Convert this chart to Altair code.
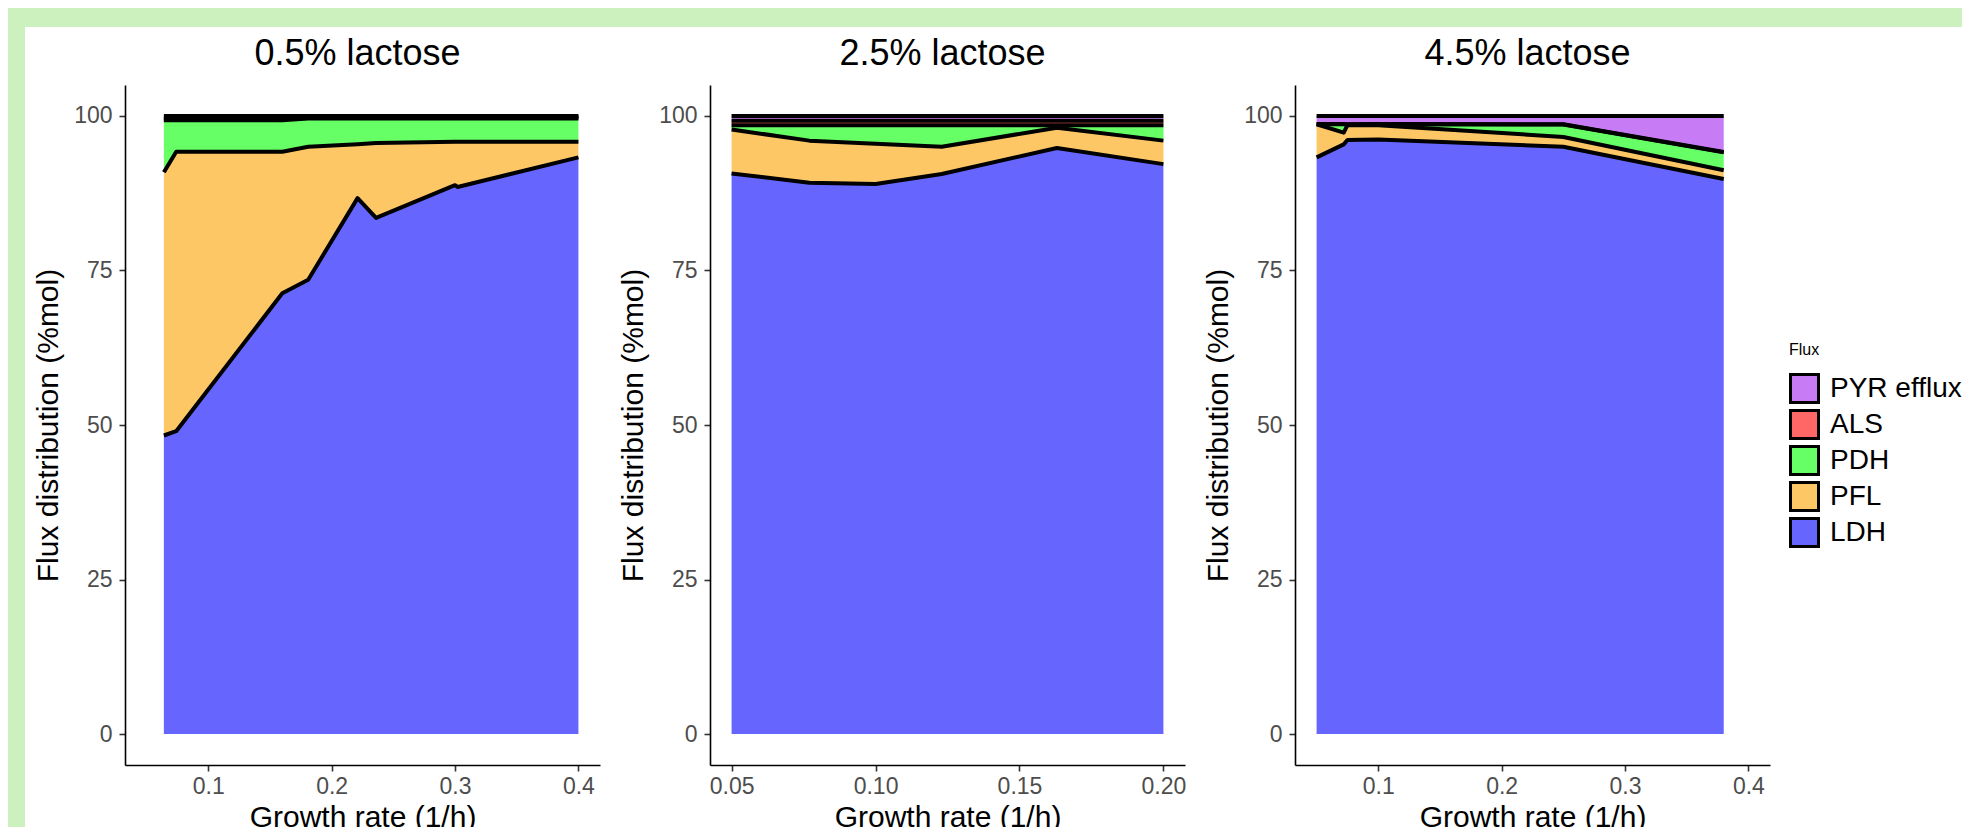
import altair as alt
import pandas as pd

FONT = "Liberation Sans"

# Flux categories (legend order, top of stack first) and their colours
FLUXES = ["PYR efflux", "ALS", "PDH", "PFL", "LDH"]
COLORS = ["#C77CF6", "#FF6666", "#66FF66", "#FDC766", "#6666FF"]
STACK_RANK = [4, 3, 2, 1, 0]  # 0 = bottom of the stack

# ---- 0.5% lactose ----
x_05 = [0.064, 0.074, 0.160, 0.181, 0.221, 0.236, 0.300, 0.302, 0.400]
ldh_05 = [48.3, 49.0, 71.3, 73.5, 86.7, 83.5, 88.8, 88.5, 93.3]
pfl_05 = [42.6, 45.2, 22.9, 21.5, 8.7, 12.1, 7.0, 7.3, 2.5]
pdh_05 = [8.4, 5.1, 5.1, 4.6, 4.2, 4.0, 3.8, 3.8, 3.8]
als_05 = [0.2, 0.2, 0.2, 0.2, 0.2, 0.2, 0.2, 0.2, 0.2]
pyr_05 = [0.5, 0.5, 0.5, 0.2, 0.2, 0.2, 0.2, 0.2, 0.2]

# ---- 2.5% lactose ----
x_25 = [0.050, 0.077, 0.100, 0.123, 0.163, 0.200]
ldh_25 = [90.7, 89.2, 89.0, 90.6, 94.8, 92.2]
pfl_25 = [7.1, 6.8, 6.5, 4.4, 3.3, 3.8]
pdh_25 = [0.7, 2.5, 3.0, 3.5, 0.4, 2.5]
als_25 = [0.7, 0.7, 0.7, 0.7, 0.7, 0.7]
pyr_25 = [0.8, 0.8, 0.8, 0.8, 0.8, 0.8]

# ---- 4.5% lactose ----
x_45 = [0.050, 0.072, 0.075, 0.100, 0.250, 0.380]
ldh_45 = [93.3, 95.4, 96.1, 96.2, 95.0, 89.8]
pfl_45 = [5.35, 1.9, 2.4, 2.3, 1.6, 1.4]
pdh_45 = [0.0, 1.35, 0.1, 0.15, 2.0, 2.9]
als_45 = [0.05, 0.05, 0.05, 0.05, 0.05, 0.05]
pyr_45 = [1.3, 1.3, 1.35, 1.3, 1.35, 5.85]

TITLES = ["0.5% lactose", "2.5% lactose", "4.5% lactose"]
TICKS_A = [0.1, 0.2, 0.3, 0.4]
TICKS_B = [0.05, 0.10, 0.15, 0.20]
Y_TICKS = [0, 25, 50, 75, 100]


def long_frame(xs, pyr, als, pdh, pfl, ldh):
    series = dict(zip(FLUXES, [pyr, als, pdh, pfl, ldh]))
    rank = dict(zip(FLUXES, STACK_RANK))
    rows = []
    for name, vals in series.items():
        for x, v in zip(xs, vals):
            rows.append({"x": x, "flux": name, "value": v, "rank": rank[name]})
    return pd.DataFrame(rows)


W, H = 475, 680
LINE = "black"
one_row = pd.DataFrame({"k": [0]})


def panel(df, title, domain, ticks, fmt, legend):
    base = alt.Chart(df).transform_stack(
        stack="value",
        groupby=["x"],
        as_=["y0", "y1"],
        sort=[alt.SortField("rank", order="ascending")],
    )
    xenc = alt.X(
        "x:Q",
        scale=alt.Scale(domain=domain, nice=False, zero=False),
        axis=alt.Axis(values=ticks, format=fmt, title="Growth rate (1/h)"),
    )
    yenc = alt.Y(
        "y1:Q",
        scale=alt.Scale(domain=[-5, 105], nice=False, zero=False),
        axis=alt.Axis(values=Y_TICKS, title="Flux distribution (%mol)"),
    )
    area = base.mark_area(opacity=1, interpolate="linear").encode(
        x=xenc,
        y=yenc,
        y2="y0:Q",
        color=alt.Color(
            "flux:N",
            scale=alt.Scale(domain=FLUXES, range=COLORS),
            legend=legend,
        ),
        order=alt.Order("rank:Q"),
    )
    lines = base.mark_line(color=LINE, strokeWidth=4, strokeJoin="round").encode(
        x="x:Q",
        y="y1:Q",
        detail="flux:N",
    )
    head = alt.Chart(one_row).mark_text(
        text=title,
        font=FONT,
        fontSize=36,
        color="black",
        align="center",
        baseline="alphabetic",
    ).encode(x=alt.value(W / 2 - 5), y=alt.value(-20))
    return alt.layer(area, lines, head).properties(width=W, height=H)


df05 = long_frame(x_05, pyr_05, als_05, pdh_05, pfl_05, ldh_05)
df25 = long_frame(x_25, pyr_25, als_25, pdh_25, pfl_25, ldh_25)
df45 = long_frame(x_45, pyr_45, als_45, pdh_45, pfl_45, ldh_45)

legend = alt.Legend(
    title="Flux",
    orient="none",
    legendX=494,
    legendY=257,
    titleFontSize=16,
    titleFontWeight="normal",
    titleColor="black",
    titleFont=FONT,
    titlePadding=15,
    labelFontSize=28,
    labelColor="black",
    labelFont=FONT,
    labelOffset=10,
    symbolType="square",
    symbolSize=784,
    symbolStrokeColor="black",
    symbolStrokeWidth=3,
    symbolOpacity=1,
    rowPadding=-8,
    labelLimit=400,
)

p1 = panel(df05, TITLES[0], [0.0325, 0.4175], TICKS_A, ".1f", None)
p2 = panel(df25, TITLES[1], [0.0425, 0.2075], TICKS_B, ".2f", None)
p3 = panel(df45, TITLES[2], [0.0325, 0.4175], TICKS_A, ".1f", legend)

# light green frame along the top and left edges
GREEN = "#CCF0BE"
left_strip = alt.Chart(one_row).mark_rect(color=GREEN).encode(
    x=alt.value(-117), x2=alt.value(-100), y=alt.value(-77), y2=alt.value(742)
)
top_strip = alt.Chart(one_row).mark_rect(color=GREEN).encode(
    x=alt.value(-117), x2=alt.value(1837), y=alt.value(-77), y2=alt.value(-58)
)
p1 = alt.layer(left_strip, top_strip, p1)

chart = (
    alt.hconcat(p1, p2, p3, spacing=110, bounds="flush")
    .resolve_legend(color="independent")
    .properties(padding=0, background="white")
    .configure(font=FONT)
    .configure_view(strokeWidth=0)
    .configure_axis(
        grid=False,
        domainColor="black",
        domainWidth=1.6,
        tickColor="#333333",
        tickWidth=1.6,
        tickSize=6,
        labelColor="#4D4D4D",
        labelFontSize=23,
        labelFont=FONT,
        titleFontSize=30,
        titleFont=FONT,
        titleColor="black",
        titleFontWeight="normal",
    )
    .configure_axisX(labelPadding=4, titlePadding=4)
    .configure_axisY(labelPadding=7, titlePadding=10)
)

chart.save("out.html", embed_options={"renderer": "svg", "actions": False})
